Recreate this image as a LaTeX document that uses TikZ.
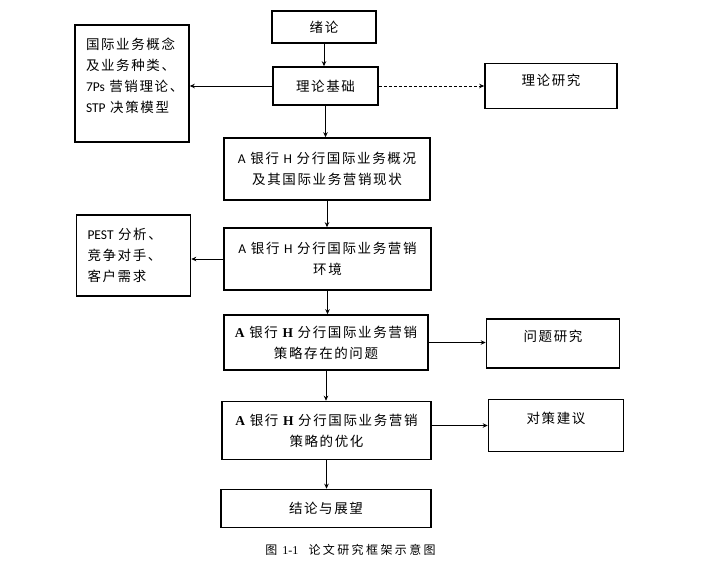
\documentclass[tikz,border=0pt]{standalone}
\usepackage{fontspec}
\setmainfont{Noto Sans CJK SC}[LetterSpace=12]
\newfontfamily\enfont{Carlito}
\newfontfamily\serifl{Liberation Serif}
\usepackage{tikz}
\usetikzlibrary{arrows.meta,positioning}

\begin{document}
\begin{tikzpicture}[
    x=1pt, y=-1pt,
    font=\fontsize{13.5}{21}\selectfont,
    box/.style={rectangle, draw, line width=1.6pt, align=center, inner sep=0pt},
    side/.style={box, align=left, text width=92pt, inner xsep=11pt},
    goal/.style={box, text depth=15pt},
    arrow/.style={-{Stealth[length=5pt,width=4.5pt]}, line width=1pt}
]
\useasboundingbox (0,0) rectangle (701,566);

\node[box, minimum width=104pt, minimum height=32pt] (intro) at (324,27) {绪论};
\node[box, minimum width=105pt, minimum height=38pt] (basis) at (325.5,86) {理论基础};
\node[side, minimum height=117pt, text depth=80pt] (concept) at (132,83.5) {国际业务概念\\及业务种类、\\{\enfont 7Ps}~营销理论、\\{\enfont STP}~决策模型};
\node[goal, minimum width=132pt, minimum height=45pt, text depth=12pt] (theory) at (551,86) {理论研究};

\node[box, minimum width=206pt, minimum height=62pt] (overview) at (327,169) {{\enfont A} 银行 {\enfont H} 分行国际业务概况\\及其国际业务营销现状};
\node[box, minimum width=207pt, minimum height=62pt] (environ) at (327.5,259) {{\enfont A} 银行 {\enfont H} 分行国际业务营销\\环境};
\node[side, minimum height=81pt] (pest) at (133.5,255.5) {{\enfont PEST}~分析、\\竞争对手、\\客户需求};

\node[box, minimum width=204pt, minimum height=55pt] (problem) at (326,342.5) {{\serifl\bfseries A} 银行 {\serifl\bfseries H} 分行国际业务营销\\策略存在的问题};
\node[goal, minimum width=133pt, minimum height=49pt] (issue) at (553,343.5) {问题研究};

\node[box, minimum width=209pt, minimum height=58pt] (optimize) at (326.5,430.5) {{\serifl\bfseries A} 银行 {\serifl\bfseries H} 分行国际业务营销\\策略的优化};
\node[goal, minimum width=135pt, minimum height=52pt] (advice) at (556,425.5) {对策建议};

\node[box, minimum width=210pt, minimum height=38pt] (concl) at (326,508.5) {结论与展望};
\node[font=\fontsize{12}{14}\selectfont\addfontfeature{LetterSpace=20}] (caption) at (350.5,550) {图\ {\serifl 1-1}\ \ 论文研究框架示意图};

\draw[arrow] (intro.south) -- (intro.south |- basis.north);
\draw[arrow] (basis.west) -- (concept.east |- basis.west);
\draw[arrow, densely dashed] (basis.east) -- (theory.west);
\draw[arrow] (basis.south) -- (basis.south |- overview.north);
\draw[arrow] (overview.south) -- (overview.south |- environ.north);
\draw[arrow] (environ.west) -- (environ.west -| pest.east);
\draw[arrow] (environ.south) -- (environ.south |- problem.north);
\draw[arrow] (problem.east) -- (problem.east -| issue.west);
\draw[arrow] (problem.south) -- (problem.south |- optimize.north);
\draw[arrow] (optimize.east |- advice.west) -- (advice.west);
\draw[arrow] (optimize.south) -- (optimize.south |- concl.north);
\end{tikzpicture}
\end{document}
